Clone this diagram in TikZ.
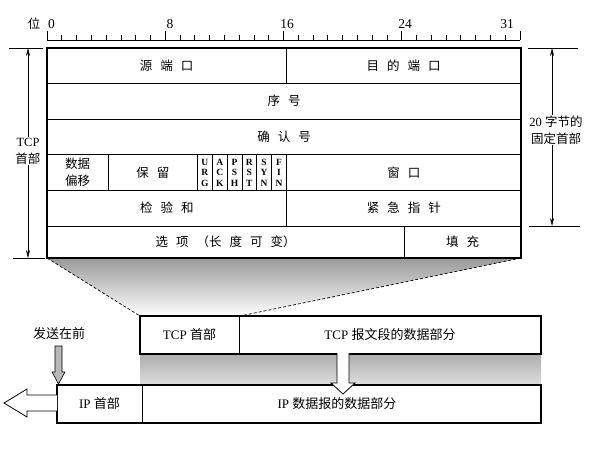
\documentclass[tikz,border=0pt]{standalone}
\usepackage{fontspec}
\setmainfont{Liberation Serif}
\newfontfamily\cjk{Noto Sans CJK SC}
\usetikzlibrary{arrows.meta}
\newcommand\zh[1]{{\cjk #1}}
\newcommand\ks{\hspace{8pt}}
\begin{document}
\begin{tikzpicture}[x=1pt,y=-1pt,
  txt/.style={inner sep=0pt, font=\fontsize{12.5}{14}\selectfont},
  twoline/.style={inner sep=1pt, align=center, font=\fontsize{12.5}{17}\selectfont},
  big/.style={inner sep=0pt, font=\fontsize{13}{15}\selectfont},
  flagtxt/.style={inner sep=0pt, align=center, font=\bfseries\fontsize{9.5}{10.5}\selectfont},
  num/.style={inner sep=0pt, font=\fontsize{13.5}{15}\selectfont},
  frame/.style={line width=1.4pt},
  inner/.style={line width=0.8pt},
  boxline/.style={line width=1.1pt},
  dim/.style={line width=0.6pt},
  dimarrow/.style={dim, {Stealth[length=8pt,width=4pt]}-{Stealth[length=8pt,width=4pt]}},
  guide/.style={line width=0.7pt, dash pattern=on 3pt off 2pt}
]
\useasboundingbox (0,0) rectangle (608,451);

% ---- ruler
\draw[line width=0.7pt] (47,40) -- (520,40);
\foreach \i in {0,...,32} {
  \pgfmathsetmacro\xx{47+\i*14.78}
  \ifnum\i=0 \draw[line width=0.7pt] (\xx,40) -- (\xx,31);
  \else\ifnum\i=8 \draw[line width=0.7pt] (\xx,40) -- (\xx,31);
  \else\ifnum\i=16 \draw[line width=0.7pt] (\xx,40) -- (\xx,31);
  \else\ifnum\i=24 \draw[line width=0.7pt] (\xx,40) -- (\xx,31);
  \else\ifnum\i=32 \draw[line width=0.7pt] (\xx,40) -- (\xx,31);
  \else \draw[line width=0.7pt] (\xx,40) -- (\xx,35);
  \fi\fi\fi\fi\fi
}
\node[txt] (bitlbl) at (34,24) {\zh{位}};
\node[num] (b0) at (51.5,24) {0};
\node[num] (b8) at (170,24) {8};
\node[num] (b16) at (287,24) {16};
\node[num] (b24) at (405,24) {24};
\node[num] (b31) at (507,24) {31};

% ---- trapezoid shading and guide lines
\shade[top color=gray!80, bottom color=white] (47,258) -- (521,258) -- (240,316) -- (140,316) -- cycle;
\coordinate (gl1) at (47,258); \coordinate (gl2) at (140,316);
\coordinate (gr1) at (521,258); \coordinate (gr2) at (240,316);
\draw[guide] (gl1) -- (gl2);
\draw[guide] (gr1) -- (gr2);

% ---- header table
\fill[white] (47,48) rectangle (521,258);
\foreach \yy in {83.5,119,154.5,190,226} \draw[inner] (47,\yy) -- (521,\yy);
\draw[inner] (286.5,48) -- (286.5,83.5);
\foreach \xx in {108,197.5,212.3,227.1,241.9,256.7,271.5,286.5} \draw[inner] (\xx,154.5) -- (\xx,190);
\draw[inner] (286.5,190) -- (286.5,226);
\draw[inner] (404,226) -- (404,258);
\draw[frame] (47,48) rectangle (521,258);

\node[txt] (src) at (166.5,66) {\zh{源\ks 端\ks 口}};
\node[txt] (dst) at (403.5,66) {\zh{目\ks 的\ks 端\ks 口}};
\node[txt] (seq) at (284,101) {\zh{序\ks 号}};
\node[txt] (ackno) at (284,137) {\zh{确\ks 认\ks 号}};
\node[twoline] (off) at (77.5,172.5) {\zh{数据}\\\zh{偏移}};
\node[txt] (rsv) at (152.75,172.5) {\zh{保\ks 留}};
\node[flagtxt] (furg) at (204.9,172.5) {U\\R\\G};
\node[flagtxt] (fack) at (219.7,172.5) {A\\C\\K};
\node[flagtxt] (fpsh) at (234.5,172.5) {P\\S\\H};
\node[flagtxt] (frst) at (249.3,172.5) {R\\S\\T};
\node[flagtxt] (fsyn) at (264.1,172.5) {S\\Y\\N};
\node[flagtxt] (ffin) at (279,172.5) {F\\I\\N};
\node[txt] (win) at (403.75,172.5) {\zh{窗\ks 口}};
\node[txt] (chk) at (166.75,208) {\zh{检\ks 验\ks 和}};
\node[txt] (urgp) at (403.75,208) {\zh{紧\ks 急\ks 指\ks 针}};
\node[txt] (opt) at (225.5,242) {\zh{选\ks 项\ks （长\ks 度\ks 可\ks 变）}};
\node[txt] (pad) at (462.5,242) {\zh{填\ks 充}};

% ---- left dimension
\coordinate (lt) at (28,48); \coordinate (lb) at (28,258);
\coordinate (lt1) at (9,48); \coordinate (lt2) at (43,48);
\coordinate (lb1) at (13,258); \coordinate (lb2) at (45,258);
\draw[dim] (lt1) -- (lt2);
\draw[dim] (lb1) -- (lb2);
\draw[dimarrow] (lt) -- (lb);
\node[twoline, fill=white] (tcphdrlbl) at (28,151) {TCP\\\zh{首部}};

% ---- right dimension
\coordinate (rt) at (552,48); \coordinate (rb) at (552,226);
\coordinate (rt1) at (528,48); \coordinate (rt2) at (578,48);
\coordinate (rb1) at (529,226); \coordinate (rb2) at (580,226);
\draw[dim] (rt1) -- (rt2);
\draw[dim] (rb1) -- (rb2);
\draw[dimarrow] (rt) -- (rb);
\node[twoline, fill=white] (fixedlbl) at (556,130) {20 \zh{字节的}\\\zh{固定首部}};

% ---- TCP segment
\shade[top color=gray!65, bottom color=gray!25] (140,354) rectangle (541,385);
\fill[white] (140,316) rectangle (541,354);
\draw[boxline] (140,316) rectangle (541,354);
\draw[inner] (239,316) -- (239,354);
\node[big] (tcph) at (189.5,335) {TCP \zh{首部}};
\node[big] (tcpd) at (390,335) {TCP \zh{报文段的数据部分}};

% ---- IP datagram
\fill[white] (57,385) rectangle (541,423);
\draw[boxline] (57,385) rectangle (541,423);
\draw[inner] (142,385) -- (142,423);
\node[big] (iph) at (99.5,404) {IP \zh{首部}};
\node[big] (ipd) at (337,404) {IP \zh{数据报的数据部分}};

% ---- block arrows
\draw[line width=0.8pt, fill=white] (337,353) -- (337,383) -- (331,383) -- (343,394) -- (355,383) -- (349,383) -- (349,353);
\draw[line width=0.8pt, fill=white] (57,395) -- (27,395) -- (27,389) -- (4,403) -- (27,417) -- (27,411) -- (57,411);
\node[big] (first) at (59,334) {\zh{发送在前}};
\draw[line width=0.6pt, fill=gray!55] (55,346) -- (55,372) -- (52,372) -- (58.5,384) -- (65,372) -- (62,372) -- (62,346) -- cycle;
\end{tikzpicture}
\end{document}
